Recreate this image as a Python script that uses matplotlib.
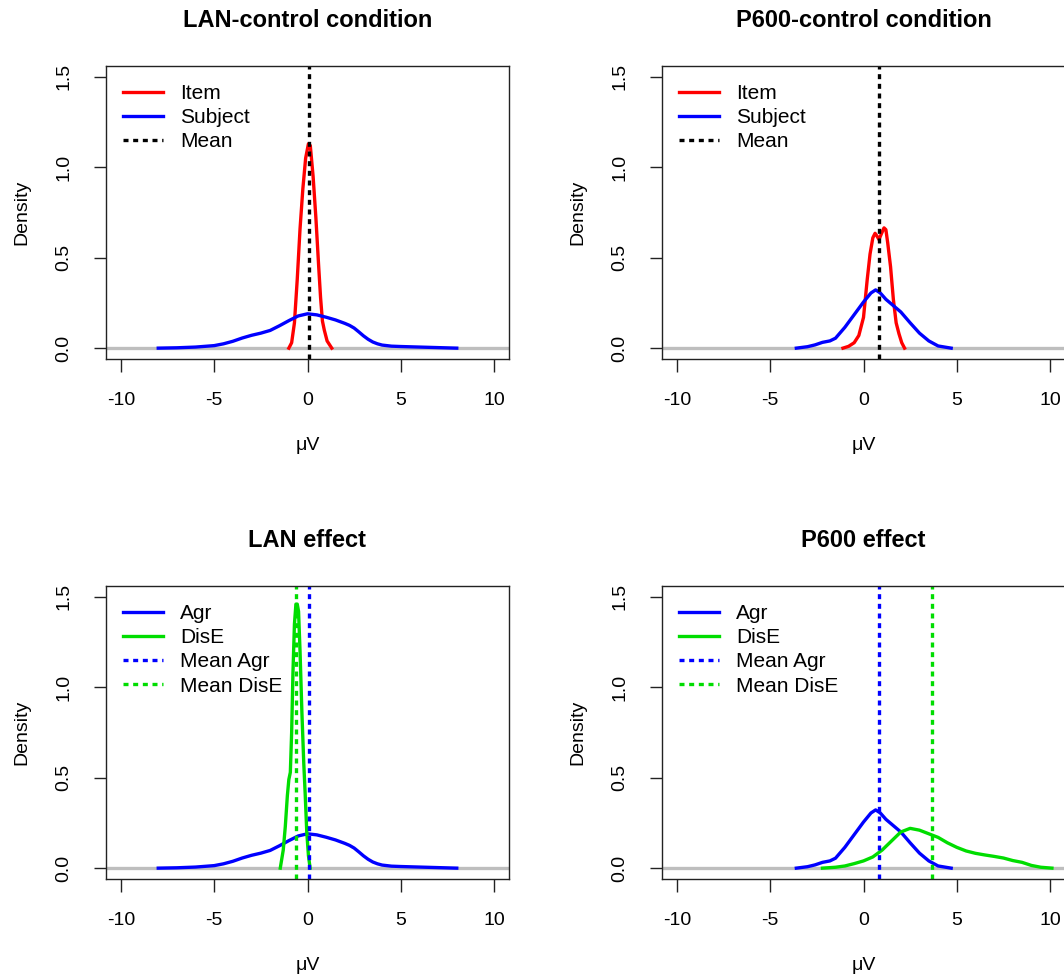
import matplotlib
matplotlib.use("Agg")
import matplotlib.pyplot as plt

plt.rcParams['font.family'] = ['Liberation Sans', 'DejaVu Sans']

# LAN: subject-level density (also used as "Agr" in the LAN effect panel)
lan_subj_x = [-8.0, -7.0, -6.0, -5.0, -4.5, -4.0, -3.5, -3.0, -2.5, -2.0, -1.5, -1.0, -0.5,
              0.0, 0.5, 1.0, 1.5, 2.0, 2.25, 2.5, 2.75, 3.0, 3.25, 3.5, 3.75, 4.0, 4.5,
              5.0, 6.0, 7.0, 8.0]
lan_subj_y = [0.0, 0.002, 0.006, 0.014, 0.024, 0.038, 0.056, 0.071, 0.083, 0.098, 0.124, 0.152, 0.178,
              0.19, 0.184, 0.171, 0.156, 0.137, 0.126, 0.111, 0.09, 0.068, 0.049, 0.034, 0.024, 0.017, 0.011,
              0.009, 0.006, 0.003, 0.0]
lan_item_x = [-1.0, -0.85, -0.7, -0.55, -0.4, -0.25, -0.1, 0.05, 0.15, 0.3, 0.45, 0.6, 0.7,
              0.8, 0.9, 1.05, 1.3]
lan_item_y = [0.0, 0.03, 0.14, 0.38, 0.66, 0.88, 1.05, 1.13, 1.12, 0.95, 0.72, 0.45, 0.28,
              0.15, 0.1, 0.04, 0.0]
lan_dise_x = [-1.46, -1.3, -1.19, -1.08, -1.0, -0.92, -0.85, -0.78, -0.7, -0.62, -0.55, -0.48,
              -0.4, -0.3, -0.2, -0.12, -0.04, 0.05, 0.14]
lan_dise_y = [0.0, 0.1, 0.23, 0.4, 0.49, 0.53, 0.75, 1.08, 1.35, 1.46, 1.46, 1.42,
              1.2, 0.86, 0.58, 0.4, 0.2, 0.07, 0.0]
lan_mean_agr = 0.08
lan_mean_dise = -0.6

# P600: subject-level density (also used as "Agr" in the P600 effect panel)
p600_subj_x = [-3.6, -3.0, -2.6, -2.2, -1.8, -1.5, -1.0, -0.5, 0.0, 0.4, 0.65, 0.9, 1.2,
               1.6, 2.0, 2.5, 3.0, 3.5, 4.0, 4.7]
p600_subj_y = [0.0, 0.008, 0.018, 0.032, 0.04, 0.055, 0.115, 0.185, 0.255, 0.305, 0.322, 0.305, 0.27,
               0.235, 0.2, 0.14, 0.083, 0.04, 0.012, 0.0]
p600_item_x = [-1.1, -0.8, -0.5, -0.25, 0.0, 0.2, 0.35, 0.5, 0.62, 0.72, 0.83, 0.95, 1.1,
               1.2, 1.3, 1.45, 1.6, 1.75, 1.9, 2.05, 2.2]
p600_item_y = [0.0, 0.01, 0.03, 0.07, 0.17, 0.38, 0.52, 0.61, 0.635, 0.62, 0.6, 0.63, 0.665,
               0.655, 0.58, 0.45, 0.27, 0.14, 0.08, 0.03, 0.0]
p600_dise_x = [-2.2, -1.5, -1.0, -0.5, 0.0, 0.5, 1.0, 1.5, 2.0, 2.5, 3.0, 3.5, 4.0, 4.5,
               5.0, 5.5, 6.0, 6.5, 7.0, 7.5, 8.0, 8.5, 9.0, 9.5, 10.1]
p600_dise_y = [0.0, 0.005, 0.012, 0.025, 0.04, 0.062, 0.1, 0.15, 0.2, 0.22, 0.21, 0.19, 0.17, 0.14,
               0.115, 0.095, 0.082, 0.073, 0.065, 0.056, 0.042, 0.032, 0.015, 0.005, 0.0]
p600_mean_agr = 0.81
p600_mean_dise = 3.68

titles = ["LAN-control condition", "P600-control condition", "LAN effect", "P600 effect"]
x_ticks = [-10, -5, 0, 5, 10]
y_ticks = [0.0, 0.5, 1.0, 1.5]

RED, BLUE, GREEN = "#ff0000", "#0000ff", "#00dd00"
DOT = (0, (1.5, 1.4))
W, H = 1064, 976

fig = plt.figure(figsize=(W / 100, H / 100), dpi=100)

def make_ax(left_px, top_px, title):
    ax = fig.add_axes([left_px / W, 1 - (top_px + 293) / H, 403 / W, 293 / H])
    ax.set_xlim(-10.8, 10.8)
    ax.set_ylim(-0.06, 1.56)
    ax.set_xticks(x_ticks)
    ax.set_xticklabels([str(t) for t in x_ticks])
    ax.set_yticks(y_ticks)
    ax.set_yticklabels(["%.1f" % t for t in y_ticks], rotation=90, va="center")
    ax.tick_params(axis="both", length=9, width=1, labelsize=14, color="#222222")
    ax.tick_params(axis="x", pad=15)
    ax.tick_params(axis="y", pad=15)
    for s in ax.spines.values():
        s.set_linewidth(1)
        s.set_color("#222222")
    ax.axhline(0, color="#bebebe", lw=2.4, zorder=1.5)
    ax.set_xlabel("μV", fontsize=14, va="center")
    ax.xaxis.set_label_coords(0.5, -86 / 293)
    ax.set_ylabel("Density", fontsize=14, va="center")
    ax.yaxis.set_label_coords(-84 / 403, 0.5)
    ax.set_title(title, fontsize=17, fontweight="bold", y=1 + 37 / 293, va="center")
    return ax

def add_legend(ax):
    ax.legend(loc="upper left", bbox_to_anchor=(17 / 403, 1 - 18 / 293), frameon=False,
              fontsize=15, handlelength=1.9, handletextpad=0.85, labelspacing=0.25,
              borderpad=0, borderaxespad=0)

# LAN-control condition
ax = make_ax(106, 66, titles[0])
ax.plot(lan_item_x, lan_item_y, color=RED, lw=2.4, label="Item")
ax.plot(lan_subj_x, lan_subj_y, color=BLUE, lw=2.4, label="Subject")
ax.axvline(lan_mean_agr, color="black", lw=2.4, ls=DOT, label="Mean")
add_legend(ax)

# P600-control condition
ax = make_ax(662, 66, titles[1])
ax.plot(p600_item_x, p600_item_y, color=RED, lw=2.4, label="Item")
ax.plot(p600_subj_x, p600_subj_y, color=BLUE, lw=2.4, label="Subject")
ax.axvline(p600_mean_agr, color="black", lw=2.4, ls=DOT, label="Mean")
add_legend(ax)

# LAN effect
ax = make_ax(106, 586, titles[2])
ax.plot(lan_subj_x, lan_subj_y, color=BLUE, lw=2.4, label="Agr")
ax.plot(lan_dise_x, lan_dise_y, color=GREEN, lw=2.4, label="DisE")
ax.axvline(lan_mean_agr, color=BLUE, lw=2.4, ls=DOT, label="Mean Agr")
ax.axvline(lan_mean_dise, color=GREEN, lw=2.4, ls=DOT, label="Mean DisE")
add_legend(ax)

# P600 effect
ax = make_ax(662, 586, titles[3])
ax.plot(p600_subj_x, p600_subj_y, color=BLUE, lw=2.4, label="Agr")
ax.plot(p600_dise_x, p600_dise_y, color=GREEN, lw=2.4, label="DisE")
ax.axvline(p600_mean_agr, color=BLUE, lw=2.4, ls=DOT, label="Mean Agr")
ax.axvline(p600_mean_dise, color=GREEN, lw=2.4, ls=DOT, label="Mean DisE")
add_legend(ax)

fig.savefig("out.png", dpi=100)
